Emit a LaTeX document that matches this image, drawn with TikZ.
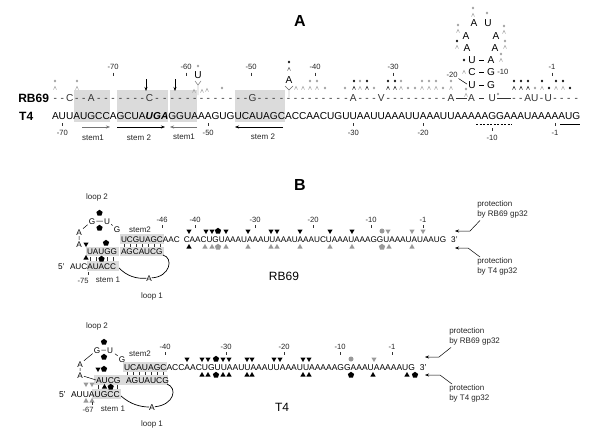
\documentclass[tikz,border=0pt]{standalone}
\usepackage{fontspec}
\setmainfont{Liberation Sans}
\usetikzlibrary{positioning,arrows.meta,shapes.geometric}

\begin{document}
\begin{tikzpicture}[x = 1pt, y = -1pt, line width = 0.5pt,
    sqa/.style = {font = \fontsize{10.1}{12}\selectfont, inner sep = 0pt, outer sep = 0pt, text height = 7.3pt, text depth = 0pt},
    sqr/.style = {sqa, text = black!80},
    sqb/.style = {font = \fontsize{8.2}{10}\selectfont, inner sep = 0pt, outer sep = 0pt, text height = 6pt, text depth = 0pt},
    sqt/.style = {sqb, font = \fontsize{8.5}{10}\selectfont},
    lp/.style = {sqb, inner sep = 1.2pt},
    num/.style = {font = \fontsize{7.6}{9}\selectfont, inner sep = 0pt, text = black!85, text height = 5.5pt, text depth = 0pt},
    lbl/.style = {font = \fontsize{8}{10.5}\selectfont, inner sep = 0pt, text = black!85, align = left},
    ttl/.style = {font = \fontsize{16}{18}\selectfont\bfseries, inner sep = 0pt},
    org/.style = {font = \fontsize{12}{14}\selectfont\bfseries, inner sep = 0pt},
    orgb/.style = {font = \fontsize{12}{14}\selectfont, inner sep = 0pt},
    gbox/.style = {fill = black!14},
    tk/.style = {line width = 0.6pt, black!80},
    arr/.style = {-{Stealth[length = 4pt, width = 3pt]}, line width = 0.5pt},
    dn/.style = {regular polygon, regular polygon sides = 3, shape border rotate = 180, fill = black, inner sep = 0pt, minimum size = 6pt},
    up/.style = {regular polygon, regular polygon sides = 3, fill = black, inner sep = 0pt, minimum size = 6pt},
    pent/.style = {regular polygon, regular polygon sides = 5, fill = black, inner sep = 0pt, minimum size = 6.5pt},
    gdot/.style = {circle, fill = black!40, inner sep = 0pt, minimum size = 5pt},
    hat/.pic = {\draw[line width = 0.45pt] (-1.5,1.6) -- (0,-1.6) -- (1.5,1.6);},
    ast/.pic = {\draw[line width = 0.4pt] (-1.3,0) -- (1.3,0) (-0.65,-1.1) -- (0.65,1.1) (-0.65,1.1) -- (0.65,-1.1);}]
    \fill[white] (0,0) rectangle (600,439);
    \useasboundingbox (0,0) rectangle (600,439);

    \node[ttl] (ta) at (300,21) {A};
    \node[ttl] (tb) at (300,185) {B};

    \fill[gbox] (74,90) rectangle (110,122);
    \fill[gbox] (117,90) rectangle (168,122);
    \fill[gbox] (170,90) rectangle (197,122);
    \fill[gbox] (235,90) rectangle (285,122);

    \node[org, anchor = west] (orgr) at (18,98) {RB69};
    \node[org, anchor = west] (orgt) at (19,116) {T4};

    \node[sqa, anchor = west] (t1) at (52,116) {A};
    \foreach \l [count = \i from 2] in {U,U,A,U,G,C,C,A,G,C,U,A,{\textbf{\textit{U}}},{\textbf{\textit{G}}},{\textbf{\textit{A}}},G,G,U,A,A,A,G,U,G,U,C,A,U,A,G,C,A,C,C,A,A,C,U,G,U,U,A,A,U,U,A,A,A,U,U,A,A,A,U,U,A,A,A,A,A,G,G,A,A,A,U,A,A,A,A,A,U,G}
    {\pgfmathtruncatemacro\p{\i - 1}
     \node[sqa, right = 0pt of t\p] (t\i) {\l};}

    \coordinate (ra) at (0,98);
    \foreach \l [count = \i] in {-,-,C,-,-,A,-,-,-,-,-,-,-,C,-,-,-,-,-,-,-,-,-,-,-,-,-,G,-,-,-,-,-,-,-,-,-,-,-,-,-,A,-,-,-,V,-,-,-,-,-,-,-,-,-,A}
      \node[sqr] (r\i) at (t\i |- ra) {\l};
    \foreach \l [count = \i from 65] in {-,-,A,U,-,U,-,-,-,-}
      \node[sqr] (r\i) at (t\i |- ra) {\l};
    \node[sqr] (ha) at (t59 |- ra) {A};
    \node[sqr] (hu) at (t62 |- ra) {U};
    \draw[black!80, shorten <= 1.5pt, shorten >= 1.5pt] (r56) -- (ha);
    \draw[black!80, shorten <= 4.5pt, shorten >= 4.5pt] (ha) -- (hu);
    \draw[black!80, shorten <= 1.5pt, shorten >= 1.5pt] (hu) -- (r65);

    \node[sqa] (sl1) at (472,85) {U};  \node[sqa] (sr1) at (491,85) {G};
    \node[sqa] (sl2) at (472,72) {C};  \node[sqa] (sr2) at (491,72) {G};
    \node[sqa] (sl3) at (472,60) {U};  \node[sqa] (sr3) at (491,60) {A};
    \node[sqa] (sl4) at (467,48) {A};  \node[sqa] (sr4) at (495,48) {A};
    \node[sqa] (sl5) at (466,36) {A};  \node[sqa] (sr5) at (496,36) {A};
    \node[sqa] (sl6) at (474,23) {A};  \node[sqa] (sr6) at (488,23) {U};
    \foreach \k in {1,2,3}
      \draw[shorten <= 3.5pt, shorten >= 3.5pt] (sl\k) -- (sr\k);
    \node[num] (n20) at (452,75) {-20};
    \node[num, anchor = west] (n10) at (497,72) {-10};
    \draw[shorten <= 1pt, shorten >= 1.5pt] (n20.south east) -- (sl1.west);

    \foreach \v/\x [count = \k] in {-70/113,-60/186,-50/251,-40/315,-30/393,-1/552}
    {\node[num] (ua\k) at (\x,67) {\v};
     \draw[tk] (ua\k.south) ++(0,2.5) -- ++(0,3);}
    \foreach \v/\j/\d [count = \k] in {-70/2/10,-50/22/10,-30/42/10,-20/52/10,-10/62/15,-1/71/10}
    {\node[num, below = \d pt of t\j] (la\k) {\v};
     \draw[tk] (t\j.south) ++(0,\d-6.5) -- ++(0,2.5);}

    \draw[dash pattern = on 2.2pt off 1.3pt] (476,124) -- (512,124);
    \draw (560,124) -- (580,124);

    \draw[arr, black!55] (82,127) -- (110,127);
    \draw[arr] (117,127) -- (165,127);
    \draw[arr, black!55] (197,127) -- (170,127);
    \draw[arr] (283,127) -- (235,127);
    \node[lbl] (st1) at (93,138) {stem1};
    \node[lbl] (st2) at (139,138) {stem 2};
    \node[lbl] (st3) at (184,137) {stem1};
    \node[lbl] (st4) at (263,137) {stem 2};

    \draw[arr] (146,79) -- (146,91);
    \draw[arr] (175,79) -- (175,91);

    \node[sqa] (iu) at (198,75) {U};
    \draw[black!60, line width = 0.45pt] (195,81) -- (198,85) -- (201,81) (198,85) -- (198,95);
    \node[sqa] (ia) at (289,80) {A};
    \draw[black!60, line width = 0.45pt] (285,86) -- (289,90) -- (293,86) (289,90) -- (289,97);
    \pic[black!40] at (198,66) {ast};
    \pic[black!40] at (194,91) {hat};
    \pic[black!40] at (202,91) {hat};
    \pic[black] at (289,62) {ast};
    \pic[black!70] at (289,69) {hat};
    \pic[black!40] at (207,90) {hat};

    \foreach \x in {55,77,296,303,310,317,360,401,422,429,436,451,542,556,563}
      \pic[black!40] at (\x,88) {hat};
    \foreach \x in {354,367,388,395,514,521,528}
      \pic[black] at (\x,88) {hat};
    \foreach \x in {55,77,310,317,360,401,422,429,436,451}
      \pic[black!40] at (\x,81) {ast};
    \foreach \x in {354,367,388,395,514,521,528,542,556,563}
      \pic[black] at (\x,81) {ast};
    \foreach \x in {222,325,345,374,408,415,443,535}
      \pic[black!40] at (\x,88) {ast};
    \foreach \x in {549,570}
      \pic[black] at (\x,88) {ast};
    \foreach \x/\y in {473/15,458/31,504/32,457/47,505/47,501/60,464/72,466/95}
      \pic[black!40] at (\x,\y) {hat};
    \foreach \x/\y in {473/8,487/13,458/25,504/26,505/41,501/54,466/89,498/94}
      \pic[black!40] at (\x,\y) {ast};
    \foreach \x/\y in {457/41,464/60}
      \pic[black] at (\x,\y) {ast};

    \fill[gbox] (120,234) rectangle (164,244);
    \fill[gbox] (86,247) rectangle (119,256);
    \fill[gbox] (120,247) rectangle (164,256);
    \fill[gbox] (87,261) rectangle (119,271);

    \node[sqb, anchor = west] (br1) at (121,239) {U};
    \foreach \l [count = \i from 2] in {C,G,U,A,G,C,A,A,C,C,A,A,C,U,G,U,A,A,A,U,A,A,A,U,U,A,A,A,U,A,A,A,U,C,U,A,A,A,U,A,A,A,G,G,U,A,A,A,U,A,U,A,A,U,G}
    {\pgfmathtruncatemacro\p{\i - 1}
     \pgfmathsetmacro\gp{(\i == 11) * 4}
     \node[sqb, right = \gp pt of br\p] (br\i) {\l};}
    \node[sqb, right = 5pt of br56] (br3e) {3'};

    \node[sqb, anchor = west] (rl1) at (87,251) {UAUGG};
    \node[sqb, anchor = west] (rl2) at (121,251) {AGCAUCG};
    \node[sqb, anchor = west] (r5e) at (58,266) {5'};
    \node[sqb, anchor = west] (rl3) at (70,266) {AUCAUACC};
    \foreach \k in {1,...,7}
      \draw[tk] (br\k.south) ++(0,2) -- ++(0,3);
    \foreach \x in {90,96,107,113}
      \draw[tk] (\x,257) -- (\x,261);
    \node[pent] (rs1) at (101.5,259) {};

    \node[lp] (pa1) at (79,232) {A};
    \node[lp] (pa2) at (79,244) {A};
    \node[lp] (pg1) at (92,221) {G};
    \node[lp] (pu) at (107,221) {U};
    \node[lp] (pg2) at (117,229) {G};
    \draw (pa2) -- (pa1) -- (pg1) -- (pu) -- (pg2);
    \node[pent] (rl2a) at (99.5,213) {};
    \node[pent] (rl2b) at (99.5,228) {};
    \node[dn] (rh1) at (86,244) {};
    \node[up] (rh2) at (86,258) {};
    \node[pent] (rh3) at (106,243) {};

    \node[lbl] (lp2r) at (97,197) {loop 2};
    \node[lbl] (s2r) at (140,230) {stem2};
    \node[lbl] (s1r) at (108,280) {stem 1};
    \node[num] (n75) at (83,281) {-75};
    \draw[tk] (88,272) -- (88,275);
    \node[lbl] (lp1r) at (152,296) {loop 1};
    \node[sqb] (la1) at (149,278) {A};
    \coordinate (c1) at (119,268);
    \coordinate (c2) at (163,255);
    \draw[line width = 0.7pt] (c1) .. controls (127,276) and (136,279) .. (la1);
    \draw[line width = 0.7pt] (la1) .. controls (170,277) and (174,258) .. (c2);
    \node[orgb] (orb) at (284,276) {RB69};

    \foreach \v/\x [count = \k] in {-46/162,-40/195,-30/255,-20/313,-10/371,-1/423}
    {\node[num] (ub\k) at (\x,220) {\v};
     \draw[tk] (ub\k.south) ++(0,2) -- ++(0,2.5);}

    \foreach \x [count = \k] in {189,206,212,226,248,271,277,300,330,352}
      \node[dn] (rd\k) at (\x,231) {};
    \node[pent] (rp1) at (218,231) {};
    \node[gdot] (rc1) at (382,231) {};
    \foreach \x [count = \k] in {388,412,423}
      \node[dn, fill = black!40] (rg\k) at (\x,231) {};
    \node[up] (ru0) at (189,247) {};
    \foreach \x [count = \k] in {205,212,226,248,271,277,300,330,352,389,412}
      \node[up, fill = black!40] (ru\k) at (\x,247) {};
    \foreach \x [count = \k] in {218,382}
      \node[pent, fill = black!40] (rq\k) at (\x,247) {};

    \node[lbl, anchor = north west] (pr1) at (477,200) {protection\\by RB69 gp32};
    \node[lbl, anchor = north west] (pr2) at (477,257) {protection\\by T4 gp32};
    \coordinate (e1) at (455,231);
    \coordinate (e2) at (455,248);
    \draw[arr] (pr1.south west) ++(3,2) -- (470,231) -- (e1);
    \draw[arr] (pr2.north west) ++(3,0) -- (468,248) -- (e2);

    \fill[gbox] (123,362) rectangle (167,372);
    \fill[gbox] (94,375) rectangle (168,385);
    \fill[gbox] (92,389) rectangle (121,399);

    \node[sqt, anchor = west] (bt1) at (124,367) {U};
    \foreach \l [count = \i from 2] in {C,A,U,A,G,C,A,C,C,A,A,C,U,G,U,U,A,A,U,U,A,A,A,U,U,A,A,A,U,U,A,A,A,A,A,G,G,A,A,A,U,A,A,A,A,A,U,G}
    {\pgfmathtruncatemacro\p{\i - 1}
     \node[sqt, right = 0pt of bt\p] (bt\i) {\l};}
    \node[sqt, right = 5pt of bt49] (bt3e) {3'};

    \node[sqt, anchor = west] (tl1) at (96,380) {AUCG};
    \node[sqt, anchor = west] (tl2) at (126,380) {AGUAUCG};
    \node[sqt, anchor = west] (t5e) at (59,394) {5'};
    \node[sqt, anchor = west] (tl3) at (71,394) {AUUAUGCC};
    \foreach \k in {1,...,7}
      \draw[tk] (bt\k.south) ++(0,2) -- ++(0,3);
    \foreach \x in {98,117}
      \draw[tk] (\x,385) -- (\x,389);
    \node[up] (ts1) at (104.5,387) {};
    \node[pent] (ts2) at (110.7,387) {};

    \node[lp] (qa1) at (80,364) {A};
    \node[lp] (qa2) at (80,375) {A};
    \node[lp] (qg1) at (97,350) {G};
    \node[lp] (qu) at (110,350) {U};
    \node[lp] (qg2) at (122,359) {G};
    \draw[shorten <= 1pt] (tl1.west) -- (qa2) -- (qa1) -- (qg1) -- (qu) -- (qg2);
    \node[pent] (tl2a) at (104,342) {};
    \node[pent] (tl2b) at (104,357) {};
    \node[dn] (th1) at (98,369) {};
    \node[pent] (th2) at (104,369) {};
    \foreach \x [count = \k] in {86,92}
    {\node[dn, fill = black!40] (tgd\k) at (\x,384) {};
     \node[up, fill = black!40] (tgu\k) at (\x,401) {};}

    \node[lbl] (lp2t) at (97,326) {loop 2};
    \node[lbl] (s2t) at (140,354) {stem2};
    \node[lbl] (s1t) at (113,409) {stem 1};
    \node[num] (n67) at (88,410) {-67};
    \draw[tk] (92,402) -- (92,405);
    \node[lbl] (lp1t) at (152,424) {loop 1};
    \node[sqt] (la2) at (152,407) {A};
    \coordinate (c3) at (121,396);
    \coordinate (c4) at (167,384);
    \draw[line width = 0.7pt] (c3) .. controls (130,404) and (140,407) .. (la2);
    \draw[line width = 0.7pt] (la2) .. controls (174,405) and (178,388) .. (c4);
    \node[orgb] (otb) at (282,407) {T4};

    \foreach \v/\x [count = \k] in {-40/165,-30/226,-20/284,-10/340,-1/392}
    {\node[num] (ut\k) at (\x,347) {\v};
     \draw[tk] (ut\k.south) ++(0,2) -- ++(0,2.5);}

    \foreach \x [count = \k] in {187,202,208,223,229,247,252,274,280,303,309}
      \node[dn] (td\k) at (\x,359) {};
    \node[pent] (tp1) at (216,359) {};
    \node[gdot] (tc1) at (351,359) {};
    \node[dn, fill = black!40] (tg1) at (374,359) {};
    \foreach \x [count = \k] in {202,208,223,229,247,252,303,309,373,407}
      \node[up] (tu\k) at (\x,375) {};
    \foreach \x [count = \k] in {216,351,415}
      \node[pent] (tq\k) at (\x,375) {};

    \node[lbl, anchor = north west] (pr3) at (449,327) {protection\\by RB69 gp32};
    \node[lbl, anchor = north west] (pr4) at (449,384) {protection\\by T4 gp32};
    \coordinate (e3) at (425,357);
    \coordinate (e4) at (425,375);
    \draw[arr] (pr3.south west) ++(2,2) -- (439,357) -- (e3);
    \draw[arr] (pr4.north west) ++(3,0) -- (440,375) -- (e4);
\end{tikzpicture}
\end{document}
